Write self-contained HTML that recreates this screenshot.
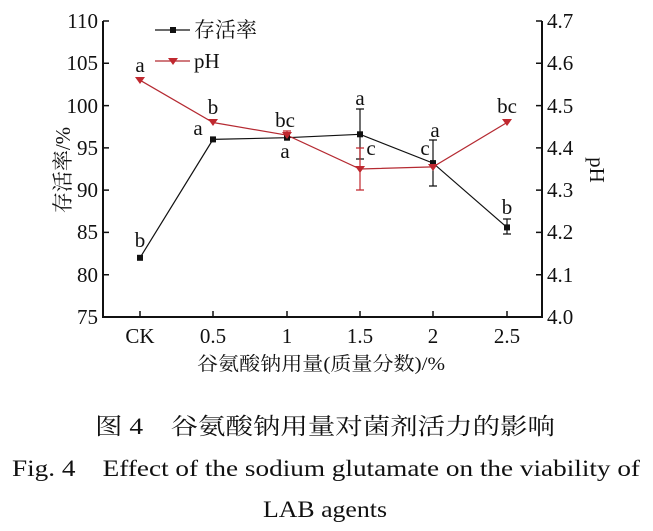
<!DOCTYPE html><html><head><style>body{margin:0;background:#fff}svg text{font-family:"Liberation Serif","Noto Serif CJK SC",serif;fill:#111}</style></head><body>
<svg width="653" height="526" xmlns="http://www.w3.org/2000/svg">
<g stroke="#111" stroke-width="2" fill="none">
<path d="M103,21V317H542V21"/>
</g>
<g stroke="#111" stroke-width="1.5">
<path d="M103,21h6M103,63.3h6M103,105.6h6M103,147.9h6M103,190.1h6M103,232.4h6M103,274.7h6"/>
<path d="M542,21h-6M542,63.3h-6M542,105.6h-6M542,147.9h-6M542,190.1h-6M542,232.4h-6M542,274.7h-6"/>
<path d="M140,317v-6M213,317v-6M287,317v-6M360,317v-6M433,317v-6M507,317v-6"/>
</g>
<g font-size="21" text-anchor="end">
<text x="98" y="28">110</text><text x="98" y="70">105</text><text x="98" y="113">100</text><text x="98" y="155">95</text><text x="98" y="197">90</text><text x="98" y="239">85</text><text x="98" y="282">80</text><text x="98" y="324">75</text>
</g>
<g font-size="21">
<text x="547" y="28">4.7</text><text x="547" y="70">4.6</text><text x="547" y="113">4.5</text><text x="547" y="155">4.4</text><text x="547" y="197">4.3</text><text x="547" y="239">4.2</text><text x="547" y="282">4.1</text><text x="547" y="324">4.0</text>
</g>
<g font-size="21" text-anchor="middle">
<text x="140" y="343">CK</text><text x="213" y="343">0.5</text><text x="287" y="343">1</text><text x="360" y="343">1.5</text><text x="433" y="343">2</text><text x="507" y="343">2.5</text>
</g>
<text x="197" y="370" font-size="19" textLength="248" lengthAdjust="spacingAndGlyphs">谷氨酸钠用量(质量分数)/%</text>
<text transform="translate(70,170) rotate(-90)" font-size="21" text-anchor="middle">存活率/%</text>
<text transform="translate(590,170) rotate(90)" font-size="21" text-anchor="middle">pH</text>
<g stroke="#111" stroke-width="1.2">
<path d="M360,109V159M356,109h8M356,159h8M433,140V186M429,140h8M429,186h8M507,219V234M503,219h8M503,234h8"/>
</g>
<g stroke="#c0282f" stroke-width="1.2">
<path d="M360,148V190M356,148h8M356,190h8M287,131V139M283,131h8"/>
</g>
<polyline points="140,257.8 213,139.4 287,137.7 360,134.3 433,163.1 507,227.4" fill="none" stroke="#111" stroke-width="1.2"/>
<polyline points="140,80.2 213,122.5 287,135.2 360,169 433,166.9 507,122.5" fill="none" stroke="#b52a32" stroke-width="1.2"/>
<g fill="#111">
<rect x="137" y="254.8" width="6" height="6"/><rect x="210" y="136.4" width="6" height="6"/><rect x="284" y="134.7" width="6" height="6"/><rect x="357" y="131.3" width="6" height="6"/><rect x="430" y="160.1" width="6" height="6"/><rect x="504" y="224.4" width="6" height="6"/>
</g>
<g fill="#c0282f">
<path d="M135,77h10l-5,7z"/><path d="M208,119h10l-5,7z"/><path d="M282,132h10l-5,7z"/><path d="M355,166h10l-5,7z"/><path d="M428,164h10l-5,7z"/><path d="M502,119h10l-5,7z"/>
</g>
<g font-size="21" text-anchor="middle">
<text x="140" y="72">a</text><text x="140" y="247">b</text>
<text x="213" y="114">b</text><text x="198" y="135">a</text>
<text x="285" y="127">bc</text><text x="285" y="158">a</text>
<text x="360" y="105">a</text><text x="371" y="155">c</text>
<text x="435" y="137">a</text><text x="425" y="155">c</text>
<text x="507" y="113">bc</text><text x="507" y="214">b</text>
</g>
<path d="M155,30h35" stroke="#111" stroke-width="1.2"/><rect x="170" y="27" width="6" height="6" fill="#111"/>
<text x="194" y="37" font-size="21">存活率</text>
<path d="M155,61h35" stroke="#b52a32" stroke-width="1.2"/><path d="M168,58h10l-5,7z" fill="#c0282f"/>
<text x="194" y="68" font-size="21">pH</text>
<text x="95" y="434" font-size="23" textLength="460" lengthAdjust="spacingAndGlyphs">图 4　谷氨酸钠用量对菌剂活力的影响</text>
<text x="12" y="476" font-size="23" textLength="628" lengthAdjust="spacingAndGlyphs">Fig. 4　Effect of the sodium glutamate on the viability of</text>
<text x="263" y="517" font-size="23" textLength="124" lengthAdjust="spacingAndGlyphs">LAB agents</text>
</svg></body></html>
